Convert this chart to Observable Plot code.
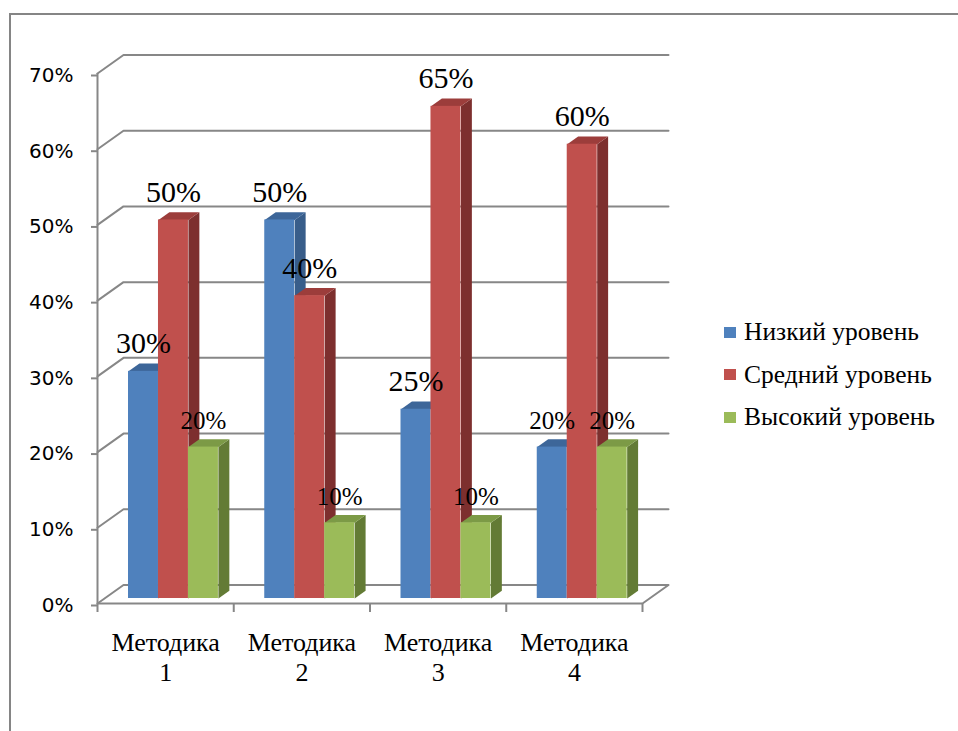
<!DOCTYPE html>
<html>
<head>
<meta charset="utf-8">
<script src="https://cdn.jsdelivr.net/npm/d3@7"></script>
<script src="https://cdn.jsdelivr.net/npm/@observablehq/plot@0.6"></script>
<style>
  html, body { margin: 0; padding: 0; background: #fff; overflow: hidden; }
  #wrap { position: relative; width: 958px; height: 731px; overflow: hidden; }
  #frame { position: absolute; left: 9px; top: 13px; width: 2000px; height: 2000px;
           border-top: 2px solid #858585; border-left: 2px solid #858585; box-sizing: border-box; }
  #chart { position: absolute; left: 0; top: 0; }
  #legend { position: absolute; left: 724px; top: 311px; font-family: "Liberation Serif", serif; font-size: 25.5px; color: #000; }
  #legend .row { display: flex; align-items: center; height: 42.5px; line-height: 42.5px; white-space: nowrap; }
  #legend .sw { width: 12px; height: 11px; margin-right: 8px; flex: none; }
</style>
</head>
<body>
<div id="wrap">
  <div id="frame"></div>
  <div id="chart"></div>
  <div id="legend"></div>
</div>
<script>
// Categories, series and their values (shares)
const categories = ["Методика 1", "Методика 2", "Методика 3", "Методика 4"];
const seriesNames = ["Низкий уровень", "Средний уровень", "Высокий уровень"];
const lowLevel = [0.30, 0.50, 0.25, 0.20];
const midLevel = [0.50, 0.40, 0.65, 0.60];
const highLevel = [0.20, 0.10, 0.10, 0.20];
const yTicks = [0, 0.1, 0.2, 0.3, 0.4, 0.5, 0.6, 0.7];

// Face colours for each series: front, top, side
const frontColors = ["#4F81BD", "#C0504D", "#9BBB59"];
const topColors = ["#3D6699", "#9C3D3B", "#7C9A46"];
const sideColors = ["#385D8A", "#7D2F2E", "#637B35"];
const gridColor = "#878787";

const seriesValues = [lowLevel, midLevel, highLevel];

// Oblique projection of the 3-D box: full depth shifts x by DX (category units) and y by DY (value units)
const DX = 26 / 136.25;
const DY = 18.5 / 757;
const barW = 0.22;         // width of one bar, category units
const groupStart = 0.176;  // offset of the first bar inside its category
const d0 = 0.27;           // depth of the bars' front plane
const dd = 0.42;           // bar depth

const bars = [];
categories.forEach((c, i) => {
  seriesValues.forEach((vals, j) => {
    const v = vals[i];
    const x0 = i + groupStart + j * barW + d0 * DX;
    const x1 = x0 + barW;
    const y0 = d0 * DY;
    const y1 = v + d0 * DY;
    bars.push({i, j, v, x0, x1, y0, y1});
  });
});

// Side and top faces as closed polygons, in drawing order
const faces = [];
bars.forEach((b, k) => {
  const ox = dd * DX, oy = dd * DY;
  const side = [[b.x1, b.y0], [b.x1, b.y1], [b.x1 + ox, b.y1 + oy], [b.x1 + ox, b.y0 + oy]];
  const top = [[b.x0, b.y1], [b.x1, b.y1], [b.x1 + ox, b.y1 + oy], [b.x0 + ox, b.y1 + oy]];
  side.forEach(([x, y]) => faces.push({id: `s${k}`, x, y, fill: sideColors[b.j]}));
  top.forEach(([x, y]) => faces.push({id: `t${k}`, x, y, fill: topColors[b.j]}));
});

// Walls: side-wall diagonal plus back-wall horizontal for every gridline
const grid = [];
yTicks.forEach((v, k) => {
  grid.push({id: `g${k}`, x: 0, y: v});
  grid.push({id: `g${k}`, x: DX, y: v + DY});
  grid.push({id: `g${k}`, x: categories.length + DX, y: v + DY});
  if (v === 0) grid.push({id: `g${k}`, x: categories.length, y: 0});
});

const chart = Plot.plot({
  width: 958,
  height: 731,
  marginLeft: 97,
  marginRight: 316,
  marginTop: 73,
  marginBottom: 128,
  style: {fontFamily: "Liberation Serif", background: "transparent", color: "#000"},
  x: {domain: [0, categories.length], axis: null},
  y: {domain: [0, 0.7], axis: null},
  color: {type: "identity"},
  marks: [
    Plot.line(grid, {x: "x", y: "y", z: "id", stroke: gridColor, strokeWidth: 2}),
    Plot.ruleX([0], {stroke: gridColor, strokeWidth: 2}),
    Plot.ruleY([0], {stroke: gridColor, strokeWidth: 2}),
    Plot.axisY({
      ticks: yTicks, tickFormat: d3.format(".0%"), tickSize: 6, tickPadding: 18,
      stroke: gridColor, strokeWidth: 2, fill: "#000",
      fontSize: 20, fontFamily: "DejaVu Sans", dy: 2
    }),
    Plot.axisX({
      ticks: d3.range(categories.length + 1), tickSize: 9, tickFormat: () => "",
      stroke: gridColor, strokeWidth: 2
    }),
    Plot.axisX({
      ticks: categories.map((c, i) => i + 0.5), tickSize: 0, tickPadding: 26,
      tickFormat: (t) => categories[Math.floor(t)].replace(" ", "\n"),
      fontSize: 26, lineHeight: 1.15, fill: "#000", fontFamily: "Liberation Serif"
    }),
    Plot.line(faces, {x: "x", y: "y", z: "id", fill: "fill", stroke: "none", curve: "linear-closed"}),
    Plot.rect(bars, {x1: "x0", x2: "x1", y1: "y0", y2: "y1", fill: (d) => frontColors[d.j]}),
    Plot.text(bars, {
      x: (d) => (d.x0 + d.x1) / 2, y: "y1",
      text: (d) => d3.format(".0%")(d.v),
      fontSize: (d) => d.v <= 0.2 ? 25 : 30,
      fontFamily: "Liberation Serif",
      lineAnchor: "bottom", dy: -18, fill: "#000"
    })
  ]
});
document.getElementById("chart").appendChild(chart);

// Legend
const legend = document.getElementById("legend");
seriesNames.forEach((name, j) => {
  const row = document.createElement("div");
  row.className = "row";
  const sw = document.createElement("span");
  sw.className = "sw";
  sw.style.background = frontColors[j];
  const label = document.createElement("span");
  label.textContent = name;
  row.appendChild(sw);
  row.appendChild(label);
  legend.appendChild(row);
});
</script>
</body>
</html>
